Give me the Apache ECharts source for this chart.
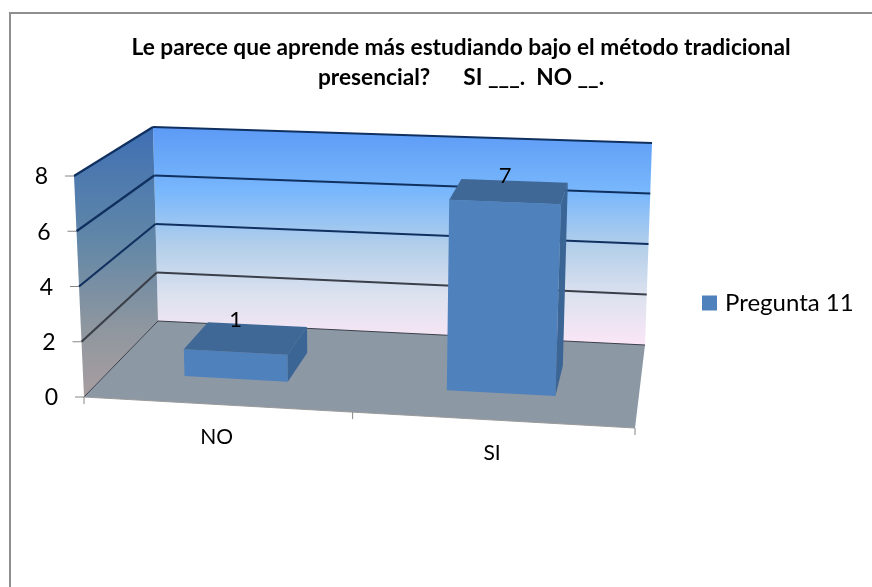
<!DOCTYPE html>
<html style="height: 100%">

<head>
    <meta charset="utf-8">
</head>

<body style="height: 100%; margin: 0; background: #fff">
    <div id="container" style="height: 100%"></div>
    <script type="text/javascript" src="https://cdn.jsdelivr.net/npm/echarts@6/dist/echarts.min.js"></script>
    <script type="text/javascript">
        var categories = ['NO', 'SI'];
        var values = [1, 7];
        var yTicks = [0, 2, 4, 6, 8];
        var seriesName = 'Pregunta 11';
        var titleText = 'Le parece que aprende más estudiando bajo el método tradicional\npresencial?      SI ___.  NO __.';

        var FONT = 'Lato';
        var BAR_COLOR = '#4f81bd';

        // corners of the 3d box in screen pixels, u along x, v up, d into the page
        var FLB = [84, 397], FRB = [635, 428], FLT = [74, 176], FRT = [645, 198];
        var BLB = [158, 321], BRB = [645, 345], BLT = [153, 127], BRT = [652, 143];

        function mix(a, b, t) {
            return [a[0] + (b[0] - a[0]) * t, a[1] + (b[1] - a[1]) * t];
        }

        function project(u, v, d) {
            // small perspective pull towards the near corner
            u = u - 0.05 * u * (1 - u);
            var front = mix(mix(FLB, FRB, u), mix(FLT, FRT, u), v);
            var back = mix(mix(BLB, BRB, u), mix(BLT, BRT, u), v);
            return mix(front, back, d);
        }

        // grid pixel -> box coordinates, so everything goes through the axes
        function toBox(params, api, cat, val) {
            var p = api.coord([cat, val]);
            var g = params.coordSys;
            return [(p[0] - g.x) / g.width, (g.y + g.height - p[1]) / g.height];
        }

        function poly(points, fill) {
            return {
                type: 'polygon',
                shape: { points: points },
                style: { fill: fill }
            };
        }

        function line(a, b, color, width) {
            return {
                type: 'line',
                shape: { x1: a[0], y1: a[1], x2: b[0], y2: b[1] },
                style: { stroke: color, lineWidth: width || 1 }
            };
        }

        function label(text, x, y, align, size) {
            return {
                type: 'text',
                style: {
                    text: text, x: x, y: y, fill: '#000',
                    font: size + 'px ' + FONT, textAlign: align, textVerticalAlign: 'middle'
                }
            };
        }

        function vGrad(stops) {
            return new echarts.graphic.LinearGradient(0, 0, 0, 1, stops);
        }

        function renderFrame(params, api) {
            var kids = [];
            var backWall = vGrad([
                { offset: 0, color: '#5c9af6' },
                { offset: 0.3, color: '#79b8fc' },
                { offset: 0.55, color: '#b4cfea' },
                { offset: 0.78, color: '#dde2ef' },
                { offset: 1, color: '#fbe6f6' }
            ]);
            var sideWall = vGrad([
                { offset: 0, color: '#3f6fb4' },
                { offset: 0.4, color: '#5f86a8' },
                { offset: 0.75, color: '#8f979f' },
                { offset: 1, color: '#a89da0' }
            ]);
            kids.push(poly([BLB, BRB, BRT, BLT], backWall));
            kids.push(poly([FLB, BLB, BLT, FLT], sideWall));
            kids.push(poly([FLB, FRB, BRB, BLB], '#8d98a5'));

            yTicks.forEach(function (t) {
                var v = toBox(params, api, 0, t)[1];
                var a = mix(FLB, FLT, v), b = mix(BLB, BLT, v), c = mix(BRB, BRT, v);
                var color = t >= 4 ? '#10305f' : '#3a3f4a';
                kids.push(line(a, b, color, t === 0 ? 1 : 2.2));
                kids.push(line(b, c, color, t === 0 ? 1 : 2.2));
                kids.push(line([a[0] - 9, a[1]], a, '#868686'));
                kids.push(label(String(t), a[0] - 26, a[1] + 1, 'right', 23));
            });

            // category axis along the front edge of the floor
            kids.push(line(FLB, FRB, '#9a9a9a'));
            [0, 0.5, 1].forEach(function (u) {
                var p = project(u, 0, 0);
                kids.push(line(p, [p[0], p[1] + 7], '#868686'));
            });
            categories.forEach(function (name, i) {
                var u = toBox(params, api, i, 0)[0];
                var p = project(u, 0, 0);
                kids.push(label(name, p[0], p[1] + 33, 'center', 21));
            });
            return { type: 'group', children: kids };
        }

        function renderBar(params, api) {
            var i = api.value(0);
            var box = toBox(params, api, i, api.value(1));
            var half = (api.size([1, 0])[0] / params.coordSys.width) * 0.2;
            var u0 = box[0] - half, u1 = box[0] + half, v = box[1];
            var d0 = 0.33, d1 = 0.7;
            var top = [project(u0, v, d0), project(u1, v, d0), project(u1, v, d1), project(u0, v, d1)];
            var front = [project(u0, 0, d0), project(u1, 0, d0), top[1], top[0]];
            var side = [project(u1, 0, d0), project(u1, 0, d1), top[2], top[1]];
            return {
                type: 'group',
                children: [
                    poly(front, BAR_COLOR),
                    poly(side, '#3b6595'),
                    poly(top, '#3f6896'),
                    label(String(api.value(1)), (top[0][0] + top[1][0]) / 2, (top[2][1] + top[3][1]) / 2 - 5, 'center', 22)
                ]
            };
        }

        var dom = document.getElementById('container');
        var myChart = echarts.init(dom);

        myChart.setOption({
            animation: false,
            backgroundColor: '#fff',
            title: {
                text: titleText,
                left: 456,
                top: 28,
                textAlign: 'center',
                textStyle: { fontFamily: FONT, fontSize: 22.7, fontWeight: 'bold', color: '#000', lineHeight: 30 }
            },
            legend: {
                data: [seriesName],
                left: 702,
                top: 291,
                padding: 0,
                icon: 'rect',
                itemWidth: 15,
                itemHeight: 15,
                itemGap: 0,
                textStyle: { fontFamily: FONT, fontSize: 24, color: '#000', padding: [0, 0, 0, 3] }
            },
            graphic: [{
                type: 'rect',
                silent: true,
                z: -1,
                shape: { x: 10, y: 13, width: 900, height: 620 },
                style: { fill: 'none', stroke: '#8f8f8f', lineWidth: 2 }
            }],
            grid: { left: 84, top: 176, width: 551, height: 221 },
            xAxis: { type: 'category', data: categories, show: false },
            yAxis: { type: 'value', min: 0, max: 8, interval: 2, show: false },
            series: [{
                type: 'custom',
                name: 'frame',
                silent: true,
                z: 1,
                renderItem: renderFrame,
                data: [[0, 0]]
            }, {
                type: 'custom',
                name: seriesName,
                silent: true,
                z: 2,
                itemStyle: { color: BAR_COLOR },
                renderItem: renderBar,
                encode: { x: 0, y: 1 },
                data: values.map(function (v, i) { return [i, v]; })
            }]
        });
    </script>
</body>

</html>
